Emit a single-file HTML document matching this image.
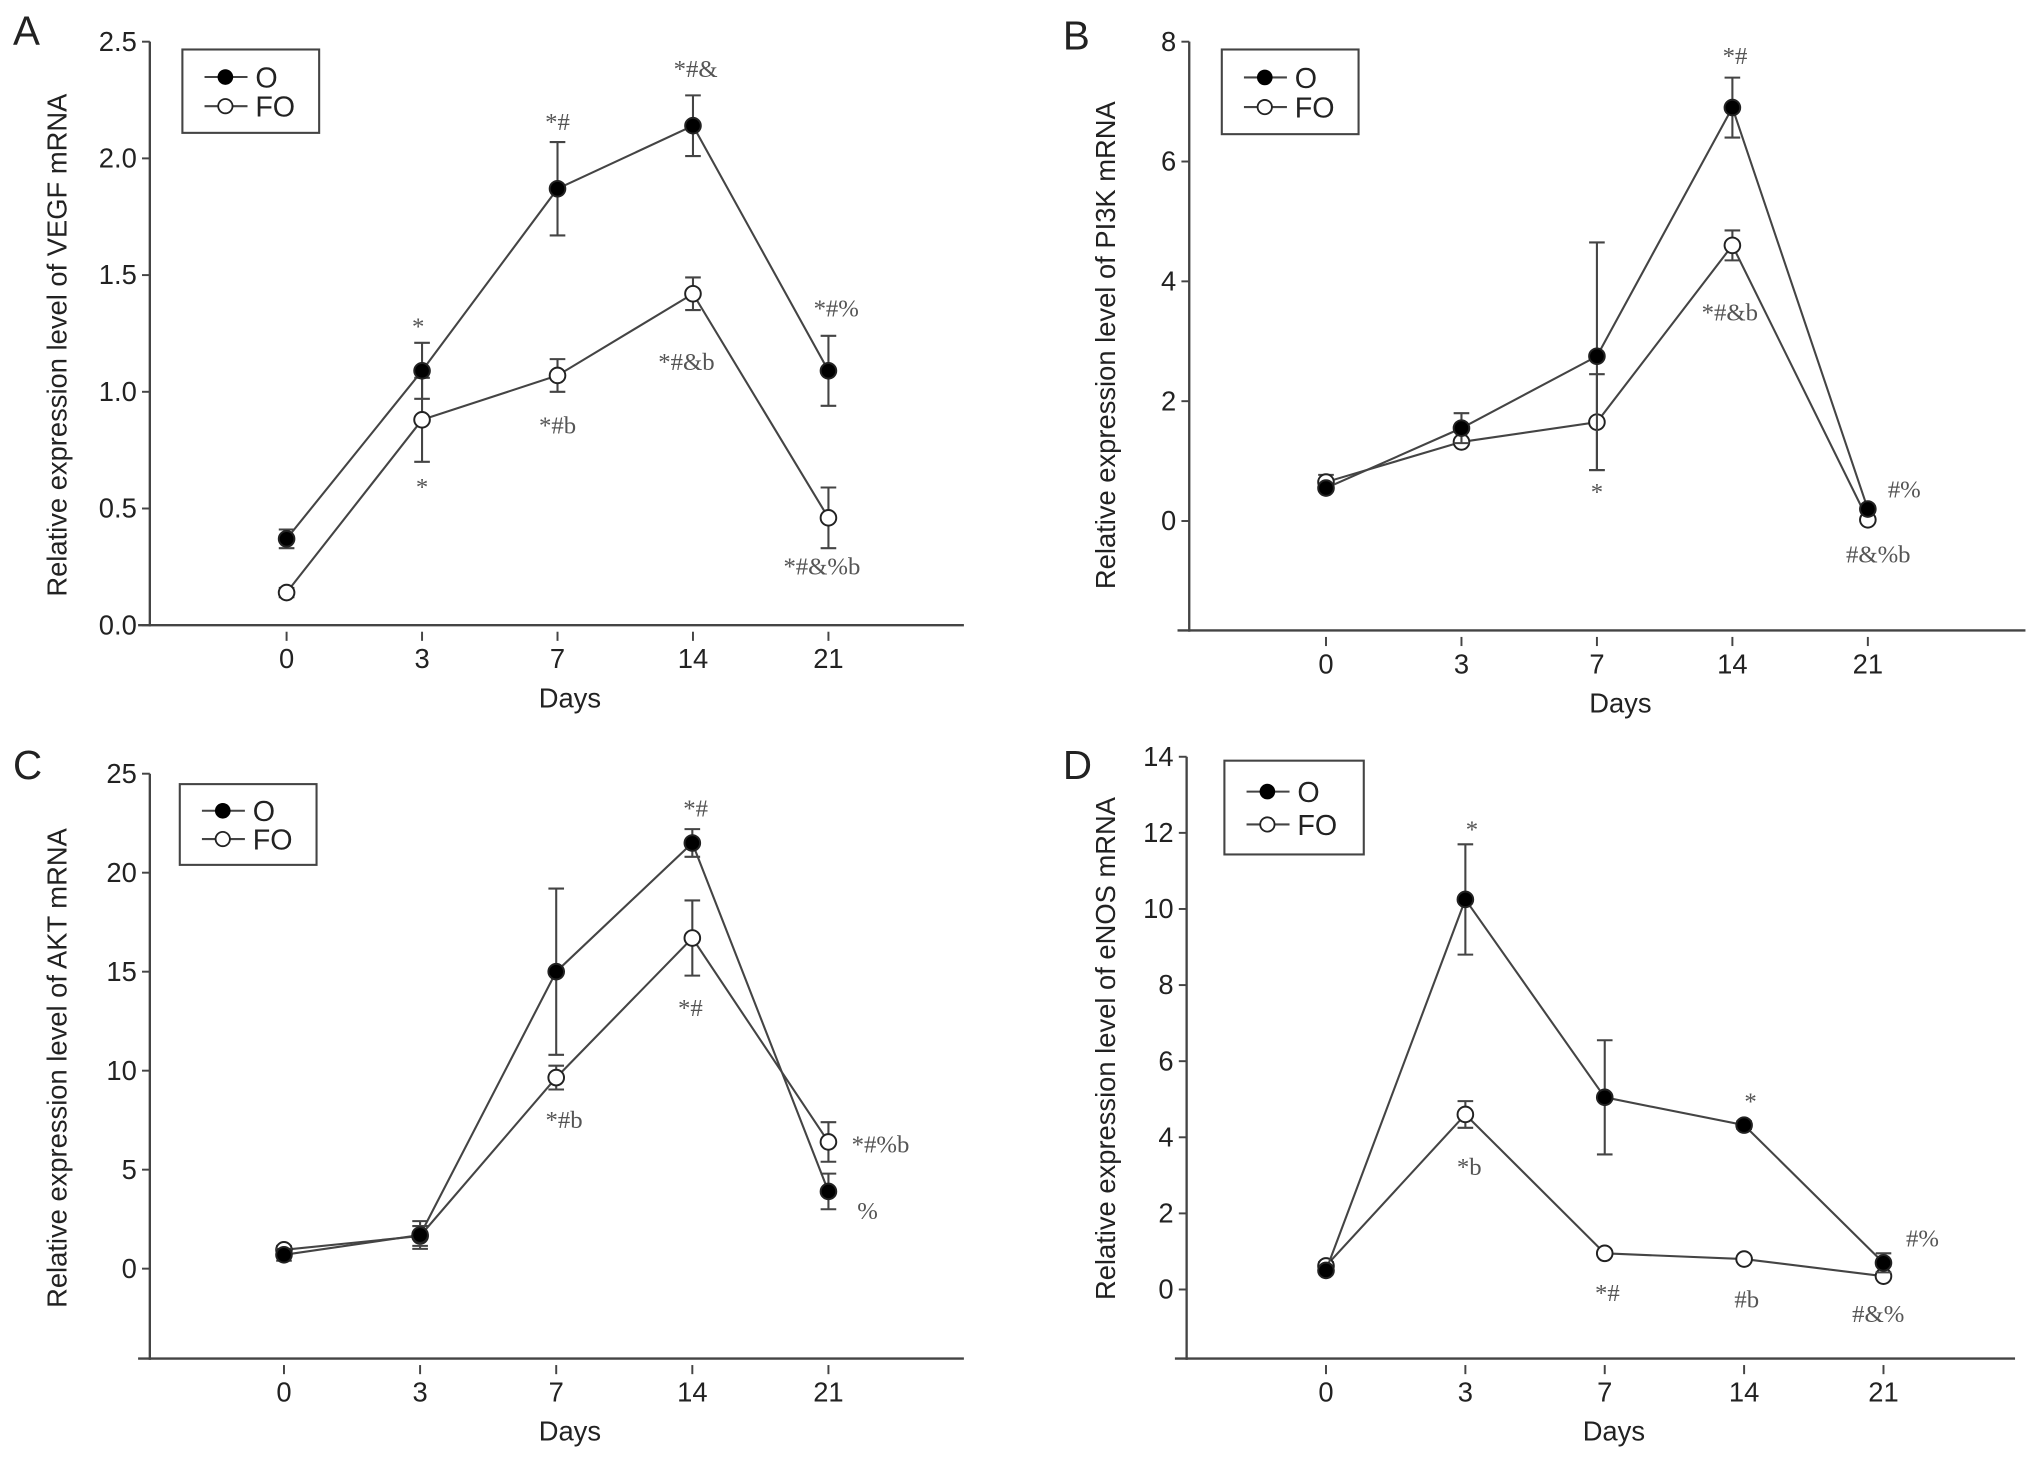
<!DOCTYPE html>
<html><head><meta charset="utf-8">
<style>
html,body{margin:0;padding:0;background:#fff;}
svg{display:block;}
text{font-family:"Liberation Sans",Arial,sans-serif;fill:#222;}
.ann{font-family:"Liberation Serif",serif;fill:#555;font-size:19px;}
</style></head>
<body>
<svg id="fig" width="2032" height="1457" viewBox="0 0 1560 1118.6" xmlns="http://www.w3.org/2000/svg"></svg>
<script>
const days = ["0","3","7","14","21"];
// Panel A - VEGF
const aO = [0.37,1.09,1.87,2.14,1.09];
const aOerr = [0.04,0.12,0.2,0.13,0.15];
const aFO = [0.14,0.88,1.07,1.42,0.46];
const aFOerr = [0.02,0.18,0.07,0.07,0.13];
const aTicks = ["0.0","0.5","1.0","1.5","2.0","2.5"];
// Panel B - PI3K
const bO = [0.55,1.55,2.75,6.9,0.2];
const bOerr = [0.05,0.25,1.9,0.5,0.05];
const bFO = [0.65,1.32,1.65,4.6,0.02];
const bFOerr = [0.12,0.05,0.8,0.25,0.03];
const bTicks = ["0","2","4","6","8"];
// Panel C - AKT
const cO = [0.7,1.7,15.0,21.5,3.9];
const cOerr = [0.3,0.7,4.2,0.7,0.9];
const cFO = [0.95,1.65,9.65,16.7,6.4];
const cFOerr = [0.2,0.5,0.6,1.9,1.0];
const cTicks = ["0","5","10","15","20","25"];
// Panel D - eNOS
const dO = [0.5,10.25,5.05,4.32,0.7];
const dOerr = [0.05,1.45,1.5,0.1,0.25];
const dFO = [0.62,4.6,0.95,0.8,0.35];
const dFOerr = [0.1,0.35,0.05,0.05,0.05];
const dTicks = ["0","2","4","6","8","10","12","14"];

const NS="http://www.w3.org/2000/svg";
const svg=document.getElementById('fig');
function mk(tag,attrs,parent,txt){const e=document.createElementNS(NS,tag);for(const k in attrs)e.setAttribute(k,attrs[k]);if(txt!==undefined)e.textContent=txt;(parent||svg).appendChild(e);return e;}

function panel(cfg){
  const g=mk('g',{});
  
  
  const y=v=>cfg.y0-(v-cfg.vmin)/(cfg.vmax-cfg.vmin)*(cfg.y0-cfg.yTop);
  const x=i=>cfg.xs0+i*cfg.dx;
  const col='#444';
  const ya=mk('line',{x1:cfg.ax,y1:cfg.yTop,x2:cfg.ax,y2:cfg.yb+1,stroke:col,'stroke-width':1.8},g);
  
  const xa=mk('line',{x1:cfg.ax-9,y1:cfg.yb,x2:cfg.xend,y2:cfg.yb,stroke:col,'stroke-width':1.8},g);
  
  cfg.ticks.forEach(t=>{
    const v=parseFloat(t),yy=y(v);
    mk('line',{x1:cfg.ax-6,y1:yy,x2:cfg.ax,y2:yy,stroke:col,'stroke-width':1.5},g);
    const tl=mk('text',{x:cfg.ax-10,y:yy+7,'text-anchor':'end','font-size':21},g,t);
    
  });
  days.forEach((d,i)=>{
    mk('line',{x1:x(i),y1:cfg.yb+5,x2:x(i),y2:cfg.yb+12,stroke:col,'stroke-width':1.5},g);
    const tl=mk('text',{x:x(i),y:cfg.yb+33,'text-anchor':'middle','font-size':21},g,d);
    
  });
  const xt=mk('text',{x:(cfg.ax+cfg.xend)/2+10,y:cfg.yb+63,'text-anchor':'middle','font-size':21},g,'Days');
  
  const ytt=mk('text',{x:0,y:0,'text-anchor':'middle','font-size':21,transform:`translate(${cfg.ytx},${cfg.yty}) rotate(-90)`},g,cfg.ytitle);
  
  const pl=mk('text',{x:cfg.plx,y:cfg.ply,'font-size':31},g,cfg.id);
  
  [[cfg.fo,cfg.foe,'#fff','fo'],[cfg.o,cfg.oe,'#000','o']].forEach(([vals,errs,fill,nm])=>{
    const pts=vals.map((v,i)=>x(i)+','+y(v)).join(' ');
    const ln=mk('polyline',{points:pts,fill:'none',stroke:col,'stroke-width':1.6},g);
    
    vals.forEach((v,i)=>{
      const eb=mk('path',{d:`M${x(i)},${y(v-errs[i])}V${y(v+errs[i])}M${x(i)-6},${y(v-errs[i])}h12M${x(i)-6},${y(v+errs[i])}h12`,stroke:col,'stroke-width':1.6,fill:'none'},g);
      
      const c=mk('circle',{cx:x(i),cy:y(v),r:6,fill:fill,stroke:'#222','stroke-width':1.5},g);
      
    });
  });
  const L=cfg.leg;
  const lg=mk('g',{},g);
  
  mk('rect',{x:L[0],y:L[1],width:L[2],height:L[3],fill:'#fff',stroke:col,'stroke-width':1.6},lg);
  const ly1=L[1]+L[3]*0.33,ly2=L[1]+L[3]*0.68;
  mk('line',{x1:L[0]+17,y1:ly1,x2:L[0]+50,y2:ly1,stroke:col,'stroke-width':1.6},lg);
  mk('circle',{cx:L[0]+33,cy:ly1,r:6,fill:'#000'},lg);
  mk('text',{x:L[0]+56,y:ly1+8,'font-size':22},lg,'O');
  mk('line',{x1:L[0]+17,y1:ly2,x2:L[0]+50,y2:ly2,stroke:col,'stroke-width':1.6},lg);
  mk('circle',{cx:L[0]+33,cy:ly2,r:5.5,fill:'#fff',stroke:'#222','stroke-width':1.4},lg);
  mk('text',{x:L[0]+56,y:ly2+8,'font-size':22},lg,'FO');
  cfg.ann.forEach(a=>{
    const t=mk('text',{x:a[1],y:a[2],'text-anchor':'middle',class:'ann'},g,a[0]);
    
  });
}

panel({id:'A',ax:115,yTop:32,y0:480,yb:480,vmin:0,vmax:2.5,xs0:220,dx:104,xend:740,ticks:aTicks,
  o:aO,oe:aOerr,fo:aFO,foe:aFOerr,ytitle:'Relative expression level of VEGF mRNA',ytx:51,yty:265,plx:10,ply:34,
  leg:[140,38,105,64],
  ann:[['*',321,257],['*',324,380],['*#',428,100],['*#b',428,333],['*#&',534,59],['*#&b',527,284],['*#%',642,243],['*#&%b',631,441]]});
panel({id:'B',ax:913,yTop:32,y0:400,yb:484,vmin:0,vmax:8,xs0:1018,dx:104,xend:1555,ticks:bTicks,
  o:bO,oe:bOerr,fo:bFO,foe:bFOerr,ytitle:'Relative expression level of PI3K mRNA',ytx:856,yty:265,plx:816,ply:38,
  leg:[938,38,105,65],
  ann:[['*#',1332,49],['*#&b',1328,246],['*',1226,384],['#%',1462,382],['#&%b',1442,432]]});
panel({id:'C',ax:115,yTop:594,y0:974,yb:1043,vmin:0,vmax:25,xs0:218,dx:104.5,xend:740,ticks:cTicks,
  o:cO,oe:cOerr,fo:cFO,foe:cFOerr,ytitle:'Relative expression level of AKT mRNA',ytx:51,yty:820,plx:10,ply:598,
  leg:[138,602,105,62],
  ann:[['*#',534,627],['*#',530,780],['*#b',433,866],['*#%b',676,885],['%',666,936]]});
panel({id:'D',ax:911,yTop:581,y0:990,yb:1043,vmin:0,vmax:14,xs0:1018,dx:107,xend:1547,ticks:dTicks,
  o:dO,oe:dOerr,fo:dFO,foe:dFOerr,ytitle:'Relative expression level of eNOS mRNA',ytx:856,yty:805,plx:816,ply:598,
  leg:[940,584,107,72],
  ann:[['*',1130,643],['*b',1128,902],['*',1344,852],['*#',1234,999],['#b',1341,1004],['#%',1476,957],['#&%',1442,1015]]});
</script>
</body></html>
